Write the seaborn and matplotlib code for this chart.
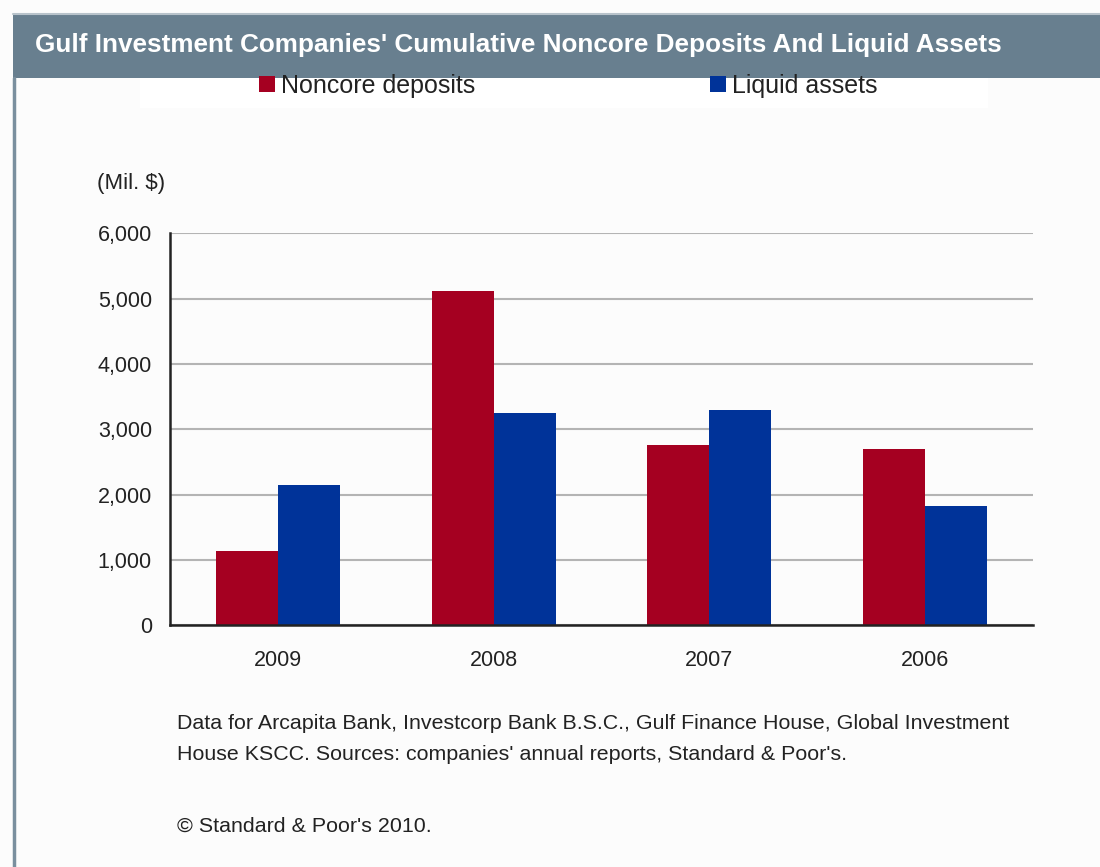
import matplotlib
matplotlib.use("Agg")
import matplotlib.pyplot as plt
from matplotlib.patches import Rectangle
from matplotlib.lines import Line2D
import seaborn as sns
import pandas as pd

# ---- data ----
years = ["2009", "2008", "2007", "2006"]
noncore_deposits = [1140, 5120, 2760, 2700]
liquid_assets = [2150, 3250, 3290, 1820]
series_names = ["Noncore deposits", "Liquid assets"]
y_ticks = [0, 1000, 2000, 3000, 4000, 5000, 6000]

title = "Gulf Investment Companies' Cumulative Noncore Deposits And Liquid Assets"
unit_label = "(Mil. $)"
footnote = ("Data for Arcapita Bank, Investcorp Bank B.S.C., Gulf Finance House, Global Investment\n"
            "House KSCC. Sources: companies' annual reports, Standard & Poor's.")
copyright_text = "\u00a9 Standard & Poor's 2010."

colors = ["#a50021", "#003399"]

df = pd.DataFrame({
    "year": years * 2,
    "value": noncore_deposits + liquid_assets,
    "series": [series_names[0]] * len(years) + [series_names[1]] * len(years),
})

sns.set_theme(style="white")
plt.rcParams["font.family"] = ["Liberation Sans", "DejaVu Sans"]

W, H = 1100, 867
fig = plt.figure(figsize=(W / 100, H / 100), dpi=100, facecolor="#fcfcfc")

def fx(px):
    return px / W

def fy(py):
    return 1 - py / H

TXT = "#222222"

# title bar
fig.patches.append(Rectangle((fx(13), fy(78)), 1 - fx(13), fy(14) - fy(78),
                             transform=fig.transFigure, facecolor="#687f8f",
                             edgecolor="none", zorder=0))
fig.add_artist(Line2D([fx(13), 1], [fy(14), fy(14)], transform=fig.transFigure,
                      color="#b8c3cb", lw=1.5))
# left border
fig.add_artist(Line2D([fx(14), fx(14)], [0, fy(78)], transform=fig.transFigure,
                      color="#7a8f9e", lw=2.5))
# legend white box
fig.patches.append(Rectangle((fx(140), fy(108)), fx(988) - fx(140), fy(78) - fy(108),
                             transform=fig.transFigure, facecolor="#ffffff",
                             edgecolor="none", zorder=0))

fig.text(fx(35), fy(45), title, color="white", fontsize=18.8, fontweight="bold",
         ha="left", va="center")

ax = fig.add_axes([fx(170), fy(625.3), fx(1033) - fx(170), fy(233.3) - fy(625.3)])
ax.set_facecolor("#fcfcfc")
sns.barplot(data=df, x="year", y="value", hue="series", palette=colors,
            width=0.575, saturation=1, ax=ax, edgecolor="none", zorder=3)

handles, labels = ax.get_legend_handles_labels()
if ax.get_legend() is not None:
    ax.get_legend().remove()

ax.set_xlim(-0.5, len(years) - 0.5)
ax.set_ylim(0, 6000)
ax.set_yticks(y_ticks)
ax.set_yticklabels([f"{v:,}" for v in y_ticks])
ax.yaxis.grid(True, color="#b4b4b4", lw=1.5, zorder=0)
ax.set_axisbelow(True)
ax.set_xlabel("")
ax.set_ylabel("")

# category labels as minor ticks, boundary marks as major ticks
ax.set_xticks([i for i in range(len(years))], minor=True)
ax.set_xticklabels(years, minor=True)
ax.set_xticks([i - 0.5 for i in range(len(years) + 1)])
ax.set_xticklabels([""] * (len(years) + 1))
ax.tick_params(axis="x", which="major", length=5, width=1.5, color=TXT, direction="out")
ax.tick_params(axis="x", which="minor", length=0, pad=17.5, labelsize=15.5, labelcolor=TXT)
ax.tick_params(axis="y", length=0, pad=13, labelsize=15.5, labelcolor=TXT)

for s in ["top", "right"]:
    ax.spines[s].set_visible(False)
for s in ["left", "bottom"]:
    ax.spines[s].set_color(TXT)
    ax.spines[s].set_linewidth(1.8)
    ax.spines[s].set_zorder(5)

fig.legend(handles, labels, loc="center left", bbox_to_anchor=(fx(259), fy(86)),
           ncol=2, frameon=False, fontsize=18, handlelength=0.62, handleheight=0.62,
           handletextpad=0.25, columnspacing=9.4, borderaxespad=0, borderpad=0,
           labelcolor=TXT)

fig.text(fx(97), fy(183), unit_label, fontsize=16, color=TXT, ha="left", va="center")
fig.text(fx(177), fy(739), footnote, fontsize=15.4, color=TXT, ha="left", va="center",
         linespacing=1.75)
fig.text(fx(177), fy(826), copyright_text, fontsize=15.4, color=TXT, ha="left", va="center")

fig.savefig("out.png", dpi=100, facecolor=fig.get_facecolor())
